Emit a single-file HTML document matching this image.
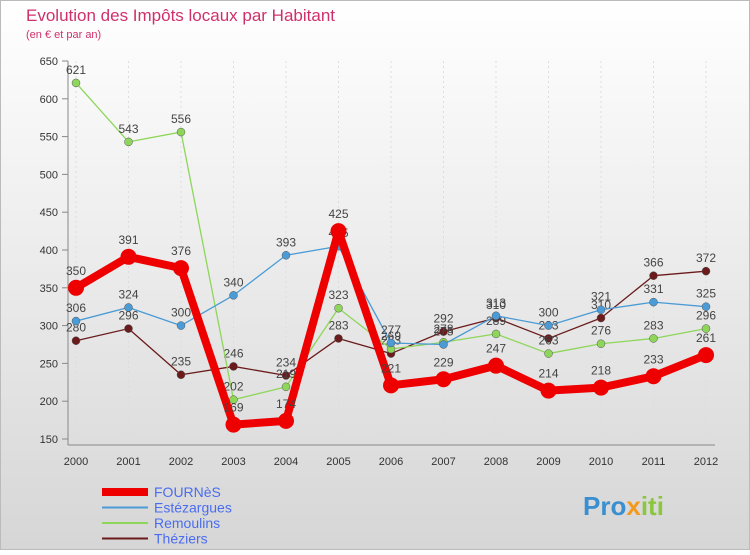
<!DOCTYPE html>
<html><head><meta charset="utf-8"><style>
body{margin:0;width:750px;height:550px;overflow:hidden;font-family:"Liberation Sans",sans-serif}
</style></head><body>
<svg width="750" height="550" xmlns="http://www.w3.org/2000/svg">
<defs><linearGradient id="bg" x1="0" y1="0" x2="0" y2="1"><stop offset="0" stop-color="#ffffff"/><stop offset="1" stop-color="#d6d6d6"/></linearGradient></defs>
<rect x="0.5" y="0.5" width="749" height="549" fill="url(#bg)" stroke="#bbb"/>
<text x="26" y="21" font-size="17" fill="#d0306a">Evolution des Impôts locaux par Habitant</text>
<text x="26" y="38" font-size="11" fill="#d0306a">(en € et par an)</text>
<g id="axes"></g><g id="series"></g><g id="legend"></g>
<text x="583" y="515" font-size="26" font-weight="bold" fill="#3a8fd0">Pro<tspan fill="#f39a1e">x</tspan><tspan fill="#8cc63f">iti</tspan></text>
</svg>
<script>
const years=["2000","2001","2002","2003","2004","2005","2006","2007","2008","2009","2010","2011","2012"];
const yTicks=[150,200,250,300,350,400,450,500,550,600,650];
const fournes=[350,391,376,169,174,425,221,229,247,214,218,233,261];
const estezargues=[306,324,300,340,393,405,277,275,313,300,321,331,325];
const remoulins=[621,543,556,202,219,323,269,278,289,263,276,283,296];
const theziers=[280,296,235,246,234,283,263,292,310,283,310,366,372];
const NS="http://www.w3.org/2000/svg";
const X=i=>76+i*52.5, Y=v=>439-(v-150)*0.756;
function mk(t,a,p){const e=document.createElementNS(NS,t);for(const k in a)e.setAttribute(k,a[k]);p.appendChild(e);return e;}
const ax=document.getElementById('axes');
yTicks.forEach(v=>{
 const l=mk('line',{x1:62,x2:68,y1:Y(v),y2:Y(v),stroke:'#888'},ax);
 
 
 const t=mk('text',{x:58,y:Y(v)+4,'font-size':11,'text-anchor':'end',fill:'#333'},ax);t.textContent=v;
 
 
});
years.forEach((y,i)=>{
 const g=mk('line',{x1:X(i),x2:X(i),y1:61,y2:445,stroke:'#ddd','stroke-dasharray':'2,3'},ax);
 
 
 const t=mk('text',{x:X(i),y:465,'font-size':11,'text-anchor':'middle',fill:'#333'},ax);t.textContent=y;
 
 
});
mk('line',{x1:68,x2:68,y1:61,y2:445,stroke:'#888'},ax);
mk('line',{x1:68,x2:715,y1:445,y2:445,stroke:'#888'},ax);
const sg=document.getElementById('series');
const defs=[
 {n:'theziers',d:theziers,c:'#6b1b1b',w:1.3,r:4},
 {n:'remoulins',d:remoulins,c:'#8ed65a',w:1.3,r:4},
 {n:'estezargues',d:estezargues,c:'#4a9bd6',w:1.3,r:4},
 {n:'fournes',d:fournes,c:'#ee0000',w:8,r:8}];
defs.forEach(s=>{
 const p=mk('polyline',{points:s.d.map((v,i)=>X(i)+','+Y(v)).join(' '),fill:'none',stroke:s.c,'stroke-width':s.w,'stroke-linejoin':'round'},sg);
 
 
 s.d.forEach((v,i)=>{
  const c=mk('circle',{cx:X(i),cy:Y(v),r:s.r,fill:s.c,stroke:s.r<5?'#555':'none','stroke-width':0.5},sg);
  
  
  const t=mk('text',{x:X(i),y:Y(v)-(s.r+5),'font-size':12,'text-anchor':'middle',fill:'#444'},sg);t.textContent=v;
  
  
 });
});
const lg=document.getElementById('legend');
const leg=[['FOURNèS','#ee0000',8],['Estézargues','#4a9bd6',2],['Remoulins','#8ed65a',2],['Théziers','#6b1b1b',2]];
leg.forEach((e,i)=>{
 const y=492+i*15.5;
 const l=mk('line',{x1:102,x2:148,y1:y,y2:y,stroke:e[1],'stroke-width':e[2]},lg);
 
 
 const t=mk('text',{x:154,y:y+5,'font-size':14,fill:'#4a6cf0'},lg);t.textContent=e[0];
 
 
});
</script>
</body></html>
